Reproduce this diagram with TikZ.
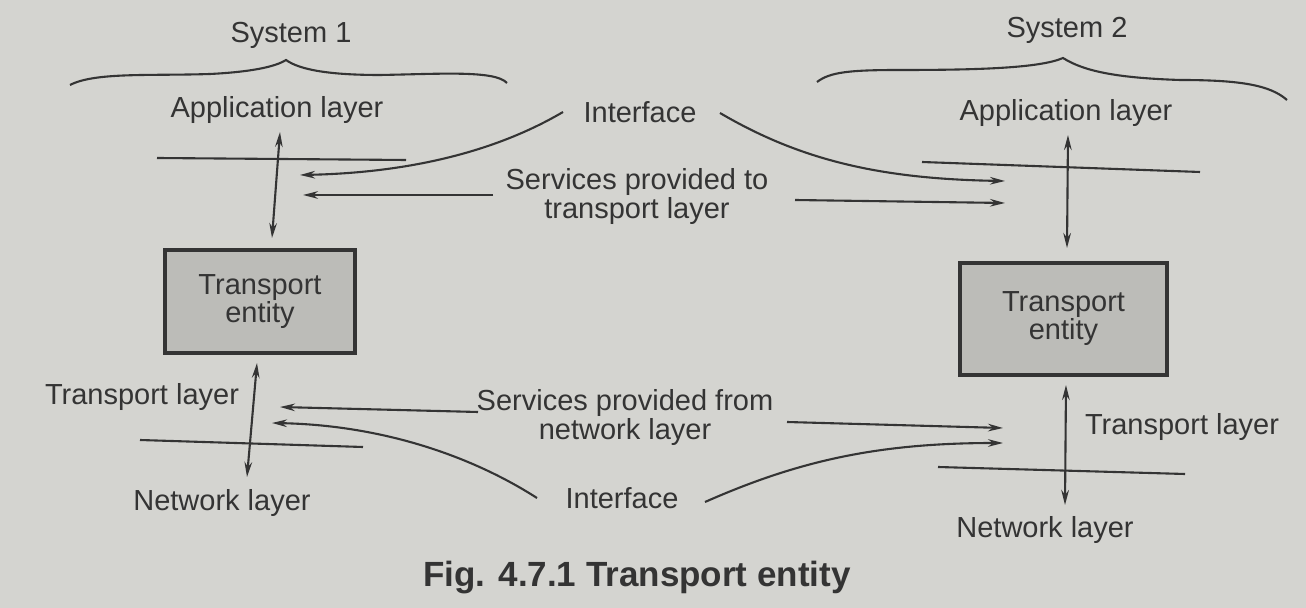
\documentclass[tikz,border=0pt]{standalone}
\usepackage{fontspec}
\setmainfont{Liberation Sans}
\usetikzlibrary{arrows.meta}
\definecolor{paper}{RGB}{212,212,208}
\definecolor{ink}{RGB}{52,52,52}
\definecolor{boxfill}{RGB}{188,188,184}
\begin{document}
\begin{tikzpicture}[x=0.5pt,y=-0.5pt,
  lbl/.style={text=ink, font=\fontsize{14.5}{14.5}\selectfont, inner sep=0pt, align=center},
  entbox/.style={draw=ink, line width=1.8pt, fill=boxfill, text=ink, align=center,
    font=\fontsize{14.5}{14}\selectfont, inner sep=0pt},
  conn/.style={draw=ink, line width=1.05pt},
  arr/.style={conn, -{Stealth[length=7.5pt,width=3.8pt]}},
  darr/.style={conn, {Stealth[length=7.5pt,width=3.8pt]}-{Stealth[length=7.5pt,width=3.8pt]}},
  brace/.style={draw=ink, line width=1.05pt}]
\fill[paper] (0,0) rectangle (1306,608);
\useasboundingbox (0,0) rectangle (1306,608);

% labels
\node[lbl] (sys1) at (291,35) {System 1};
\node[lbl] (sys2) at (1067,30) {System 2};
\node[lbl] (app1) at (277,110) {Application layer};
\node[lbl] (app2) at (1066,113) {Application layer};
\node[lbl] (if1) at (640,112) {Interface};
\node[lbl] (svc1) at (637,197) {Services provided to\\transport layer};
\node[lbl] (tl1) at (142,397) {Transport layer};
\node[lbl] (nl1) at (222,503) {Network layer};
\node[lbl] (svc2) at (625,418) {Services provided from\\network layer};
\node[lbl] (if2) at (622,498) {Interface};
\node[lbl] (tl2) at (1182,427) {Transport layer};
\node[lbl] (nl2) at (1045,530) {Network layer};
\node[lbl, font=\bfseries\fontsize{17.5}{20}\selectfont] (cap) at (637,578) {Fig. 4.7.1 Transport entity};

% entity boxes
\node[entbox, minimum width=95pt, minimum height=51.5pt] (ent1) at (260,301.5) {Transport\\entity};
\node[entbox, minimum width=103.5pt, minimum height=56pt] (ent2) at (1063.5,319) {Transport\\entity};

% braces
\draw[brace] (70,85) .. controls (95,72) and (150,76) .. (210,74)
  .. controls (250,72) and (275,67) .. (286,60)
  .. controls (300,70) and (330,75) .. (380,75)
  .. controls (440,74) and (495,70) .. (507,83);
\draw[brace] (817,82) .. controls (830,72) and (850,70) .. (900,70)
  .. controls (980,70) and (1040,68) .. (1063,58)
  .. controls (1085,72) and (1120,78) .. (1180,80)
  .. controls (1240,80) and (1270,85) .. (1287,100);

% layer boundaries
\coordinate (ul1s) at (157,158); \coordinate (ul1e) at (406,160);
\coordinate (ul2s) at (922,162); \coordinate (ul2e) at (1200,172);
\coordinate (ll1s) at (140,440); \coordinate (ll1e) at (363,447);
\coordinate (ll2s) at (938,467); \coordinate (ll2e) at (1185,474);
\draw[conn] (ul1s) -- (ul1e);
\draw[conn] (ul2s) -- (ul2e);
\draw[conn] (ll1s) -- (ll1e);
\draw[conn] (ll2s) -- (ll2e);

% vertical double arrows
\coordinate (a1t) at (280,132); \coordinate (a1b) at (272,238);
\coordinate (a2t) at (1068,135); \coordinate (a2b) at (1067,248);
\coordinate (t1t) at (257,363); \coordinate (t1b) at (247,477);
\coordinate (t2t) at (1066,385); \coordinate (t2b) at (1065,505);
\draw[darr] (a1t) -- (a1b);
\draw[darr] (a2t) -- (a2b);
\draw[darr] (t1t) -- (t1b);
\draw[darr] (t2t) -- (t2b);

% service / interface arrows
\coordinate (s1a) at (563,112); \coordinate (s1ah) at (300,175);
\coordinate (s1b) at (493,195); \coordinate (s1bh) at (303,195);
\coordinate (s2a) at (720,113); \coordinate (s2ah) at (1005,181);
\coordinate (s2b) at (795,200); \coordinate (s2bh) at (1005,203);
\coordinate (s3a) at (478,412); \coordinate (s3ah) at (280,407);
\coordinate (s3b) at (537,498); \coordinate (s3bh) at (272,423);
\coordinate (s4a) at (787,422); \coordinate (s4ah) at (1003,428);
\coordinate (s4b) at (705,502); \coordinate (s4bh) at (1003,443);

\draw[arr] (s1a) .. controls (490,155) and (400,173) .. (s1ah);
\draw[arr] (s1b) -- (s1bh);
\draw[arr] (s2a) .. controls (800,160) and (880,179) .. (s2ah);
\draw[arr] (s2b) -- (s2bh);
\draw[arr] (s3a) -- (s3ah);
\draw[arr] (s3b) .. controls (470,455) and (380,425) .. (s3bh);
\draw[arr] (s4a) -- (s4ah);
\draw[arr] (s4b) .. controls (800,460) and (880,443) .. (s4bh);
\end{tikzpicture}
\end{document}
